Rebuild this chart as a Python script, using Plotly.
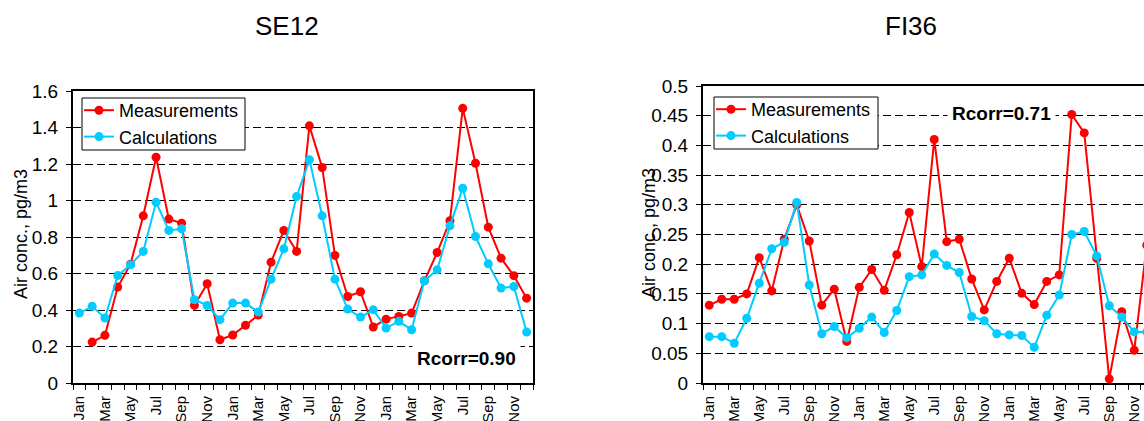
import plotly.graph_objects as go

months = ["Jan", "Feb", "Mar", "Apr", "May", "Jun", "Jul", "Aug", "Sep", "Oct", "Nov", "Dec"] * 3
x_idx = list(range(36))

se12_meas = [None, 0.224, 0.261, 0.526, 0.651, 0.916, 1.237, 0.898, 0.876, 0.425, 0.544, 0.237,
             0.263, 0.316, 0.372, 0.662, 0.836, 0.721, 1.409, 1.181, 0.699, 0.474, 0.500, 0.307,
             0.350, 0.365, 0.383, 0.560, 0.715, 0.889, 1.505, 1.204, 0.854, 0.684, 0.588, 0.465]
se12_calc = [0.383, 0.420, 0.356, 0.589, 0.648, 0.721, 0.991, 0.836, 0.845, 0.456, 0.425, 0.347,
             0.438, 0.438, 0.389, 0.569, 0.735, 1.022, 1.223, 0.916, 0.569, 0.405, 0.361, 0.401,
             0.301, 0.338, 0.292, 0.560, 0.620, 0.861, 1.067, 0.803, 0.653, 0.520, 0.529, 0.279]

fi36_meas = [0.131, 0.141, 0.141, 0.150, 0.211, 0.155, 0.242, 0.300, 0.239, 0.131, 0.158, 0.070,
             0.161, 0.191, 0.156, 0.216, 0.287, 0.196, 0.410, 0.238, 0.242, 0.175, 0.123, 0.171,
             0.210, 0.151, 0.132, 0.171, 0.182, 0.452, 0.421, 0.210, 0.007, 0.120, 0.055, 0.232]
fi36_calc = [0.078, 0.078, 0.067, 0.109, 0.168, 0.226, 0.237, 0.304, 0.165, 0.083, 0.095, 0.076,
             0.092, 0.111, 0.085, 0.122, 0.179, 0.182, 0.217, 0.198, 0.186, 0.112, 0.105, 0.083,
             0.081, 0.080, 0.060, 0.114, 0.148, 0.250, 0.255, 0.214, 0.130, 0.111, 0.086, 0.086]

se12_yticks = [0, 0.2, 0.4, 0.6, 0.8, 1, 1.2, 1.4, 1.6]
se12_ylabels = ["0", "0.2", "0.4", "0.6", "0.8", "1", "1.2", "1.4", "1.6"]
fi36_yticks = [0, 0.05, 0.1, 0.15, 0.2, 0.25, 0.3, 0.35, 0.4, 0.45, 0.5]
fi36_ylabels = ["0", "0.05", "0.1", "0.15", "0.2", "0.25", "0.3", "0.35", "0.4", "0.45", "0.5"]

RED = "#FF0000"
CYAN = "#00CCFF"
FONT = "Liberation Sans, Arial, sans-serif"
W, H = 1144, 421

def px_x(p):
    return p / W

def px_y(p):
    return 1 - p / H

fig = go.Figure()

for (meas, calc, xa, ya, leg) in [(se12_meas, se12_calc, "x", "y", "legend"),
                                  (fi36_meas, fi36_calc, "x2", "y2", "legend2")]:
    fig.add_trace(go.Scatter(x=x_idx, y=meas, name="Measurements", mode="lines+markers",
                             line=dict(color=RED, width=2), marker=dict(color=RED, size=9),
                             xaxis=xa, yaxis=ya, legend=leg, connectgaps=False))
    fig.add_trace(go.Scatter(x=x_idx, y=calc, name="Calculations", mode="lines+markers",
                             line=dict(color=CYAN, width=2), marker=dict(color=CYAN, size=9),
                             xaxis=xa, yaxis=ya, legend=leg))

label_vals = list(range(0, 36, 2))
label_text = [months[i] for i in label_vals]

def xaxis_cfg(domain, rng):
    return dict(domain=domain, range=rng, tickmode="array", tickvals=label_vals, ticktext=label_text,
                tickangle=-90, ticks="", showgrid=False, zeroline=False, automargin=False,
                showline=True, linecolor="black", linewidth=2, mirror=True,
                tickfont=dict(family=FONT, size=15, color="black"), ticklabelstandoff=5,
                minor=dict(tickmode="array", tickvals=[i - 0.5 for i in range(37)],
                           ticks="outside", ticklen=5, tickcolor="black", tickwidth=1, showgrid=False))

def yaxis_cfg(domain, rng, tv, tt, anchor, mirror):
    return dict(domain=domain, range=rng, anchor=anchor, tickmode="array", tickvals=tv, ticktext=tt,
                ticks="outside", ticklen=5, tickcolor="black", tickwidth=1, automargin=False,
                showgrid=True, gridcolor="black", gridwidth=1, griddash="8px,4px",
                zeroline=False, showline=True, linecolor="black", linewidth=2, mirror=mirror,
                tickfont=dict(family=FONT, size=19, color="black"), ticklabelstandoff=4)

fig.update_layout(
    width=W, height=H, autosize=False,
    margin=dict(l=0, r=0, t=0, b=0, autoexpand=False),
    paper_bgcolor="white", plot_bgcolor="white",
    font=dict(family=FONT, color="black"),
    xaxis=xaxis_cfg([px_x(73), px_x(533)], [-0.5, 35.5]) | dict(anchor="y"),
    yaxis=yaxis_cfg([px_y(383), px_y(91)], [0, 1.6], se12_yticks, se12_ylabels, "x", True),
    xaxis2=xaxis_cfg([px_x(703), 1.0], [-0.5, -0.5 + 441 / 12.5]) | dict(anchor="y2"),
    yaxis2=yaxis_cfg([px_y(383), px_y(86)], [0, 0.5], fi36_yticks, fi36_ylabels, "x2", False),
    legend=dict(x=px_x(79), y=px_y(92), xanchor="left", yanchor="top",
                bgcolor="rgba(0,0,0,0)", borderwidth=0,
                font=dict(family=FONT, size=18, color="black")),
    legend2=dict(x=px_x(711), y=px_y(91), xanchor="left", yanchor="top",
                 bgcolor="rgba(0,0,0,0)", borderwidth=0,
                 font=dict(family=FONT, size=18, color="black")),
    showlegend=True,
)

# legend frames (white boxes with thin black border)
for (x0, x1, y0, y1) in [(82, 245, 98, 150), (714, 878, 97, 149)]:
    fig.add_shape(type="rect", xref="paper", yref="paper",
                  x0=px_x(x0), x1=px_x(x1), y0=px_y(y1), y1=px_y(y0),
                  fillcolor="white", line=dict(color="black", width=1), layer="above")

annos = [
    dict(text="SE12", x=px_x(287), y=px_y(26), size=26, angle=0, bg=None),
    dict(text="FI36", x=px_x(911), y=px_y(26), size=26, angle=0, bg=None),
    dict(text="Air conc., pg/m3", x=px_x(21), y=px_y(234), size=18, angle=-90, bg=None),
    dict(text="Air conc., pg/m3", x=px_x(649), y=px_y(233), size=18, angle=-90, bg=None),
    dict(text="<b>Rcorr=0.90</b>", x=px_x(466), y=px_y(358), size=19, angle=0, bg="white"),
    dict(text="<b>Rcorr=0.71</b>", x=px_x(1001), y=px_y(113), size=19, angle=0, bg="white"),
]
for a in annos:
    d = dict(text=a["text"], x=a["x"], y=a["y"], xref="paper", yref="paper",
             xanchor="center", yanchor="middle", showarrow=False, textangle=a["angle"],
             font=dict(family=FONT, size=a["size"], color="black"))
    if a["bg"]:
        d["bgcolor"] = a["bg"]
        d["borderpad"] = 4
    fig.add_annotation(**d)

fig.write_html("out.html")
